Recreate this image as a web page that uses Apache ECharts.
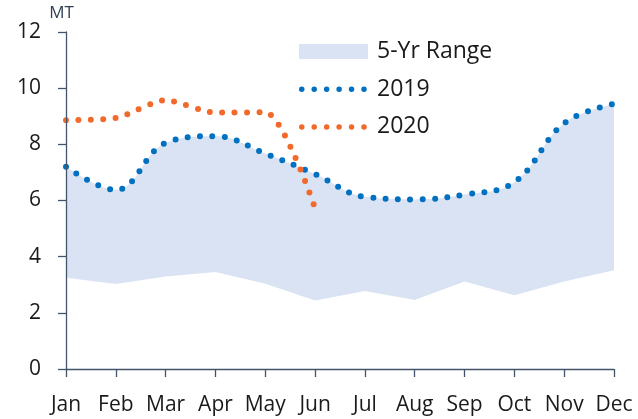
<!DOCTYPE html>
<html>
<head>
<meta charset="utf-8">
<script src="https://cdn.jsdelivr.net/npm/echarts@6/dist/echarts.min.js"></script>
<style>
html,body{margin:0;padding:0;background:#fff;}
#chart{width:638px;height:419px;}
</style>
</head>
<body>
<div id="chart"></div>
<script>
const months = ['Jan','Feb','Mar','Apr','May','Jun','Jul','Aug','Sep','Oct','Nov','Dec'];
const rangeUpper = [7.2, 6.38, 8.05, 8.29, 7.67, 6.94, 6.13, 6.04, 6.21, 6.65, 8.75, 9.44];
const rangeLower = [3.25, 3.03, 3.29, 3.45, 3.04, 2.44, 2.78, 2.46, 3.12, 2.63, 3.12, 3.52];
const y2019 = [7.2, 6.38, 8.05, 8.29, 7.67, 6.94, 6.13, 6.04, 6.21, 6.65, 8.75, 9.44];
const y2020 = [8.86, 8.94, 9.57, 9.13, 9.14, 5.72, null, null, null, null, null, null];
const yTicks = [0, 2, 4, 6, 8, 10, 12];

const FONT = 'Open Sans';
const axisColor = '#44546a';
const textColor = '#1a1a1a';
const bandColor = '#dae3f3';
const blue = '#0070c0';
const orange = '#f26a2b';

// legend icon: a row of dots (69 x 15 box)
function dotsIcon() {
  const r = 2.75, cy = 7.5;
  let p = 'path://M0 0L0.01 0L0 0.01Z M69 15L68.99 15L69 14.99Z';
  for (let k = 0; k < 6; k++) {
    const cx = 2.75 + 12.45 * k;
    p += ` M${cx - r} ${cy}A${r} ${r} 0 1 0 ${cx + r} ${cy}A${r} ${r} 0 1 0 ${cx - r} ${cy}Z`;
  }
  return p;
}

const chart = echarts.init(document.getElementById('chart'), null, {renderer: 'canvas'});
chart.setOption({
  animation: false,
  backgroundColor: '#fff',
  grid: {left: 66, right: 24, top: 32, bottom: 50, containLabel: false},
  legend: {
    orient: 'vertical',
    left: 294,
    top: 35,
    padding: 5,
    itemWidth: 69,
    itemHeight: 15,
    itemGap: 14.7,
    textStyle: {fontFamily: FONT, fontSize: 23, color: textColor, lineHeight: 23, padding: [0, 0, 0, 4]},
    data: [
      {name: '5-Yr Range', icon: 'rect'},
      {name: '2019', icon: dotsIcon()},
      {name: '2020', icon: dotsIcon()}
    ]
  },
  xAxis: {
    type: 'category',
    data: months,
    boundaryGap: false,
    z: 5,
    axisLine: {lineStyle: {color: axisColor, width: 1.3}},
    axisTick: {show: true, length: 8, alignWithLabel: true, lineStyle: {color: axisColor, width: 1.3}},
    axisLabel: {fontFamily: FONT, fontSize: 21, color: textColor, margin: 26, interval: 0},
    splitLine: {show: false}
  },
  yAxis: {
    type: 'value',
    min: 0, max: 12, interval: 2,
    z: 5,
    name: 'MT',
    nameLocation: 'end',
    nameGap: 10,
    nameTextStyle: {fontFamily: FONT, fontSize: 17, color: '#2f3f55', align: 'center', padding: [0, 9, 0, 0]},
    axisLine: {show: true, lineStyle: {color: axisColor, width: 1.3}},
    axisTick: {show: true, length: 8, lineStyle: {color: axisColor, width: 1.3}},
    axisLabel: {fontFamily: FONT, fontSize: 21, color: textColor, margin: 25,
      formatter: v => yTicks.includes(v) ? String(v) : ''},
    splitLine: {show: false}
  },
  series: [
    {
      name: '5-Yr Range',
      type: 'line',
      data: rangeUpper,
      smooth: 0.4,
      symbol: 'none',
      color: bandColor,
      lineStyle: {width: 0, color: bandColor},
      areaStyle: {color: bandColor, opacity: 1},
      z: 1
    },
    {
      name: 'lower',
      type: 'line',
      data: rangeLower,
      smooth: false,
      symbol: 'none',
      color: '#ffffff',
      lineStyle: {width: 0},
      areaStyle: {color: '#ffffff', opacity: 1},
      z: 2
    },
    {
      name: '2019',
      type: 'line',
      data: y2019,
      smooth: 0.4,
      symbol: 'none',
      color: blue,
      lineStyle: {color: blue, width: 6, type: [0, 12.4], cap: 'round'},
      z: 3
    },
    {
      name: '2020',
      type: 'line',
      data: y2020,
      smooth: 0.25,
      symbol: 'none',
      color: orange,
      lineStyle: {color: orange, width: 6, type: [0, 12.4], cap: 'round'},
      z: 4
    }
  ]
});
</script>
</body>
</html>
